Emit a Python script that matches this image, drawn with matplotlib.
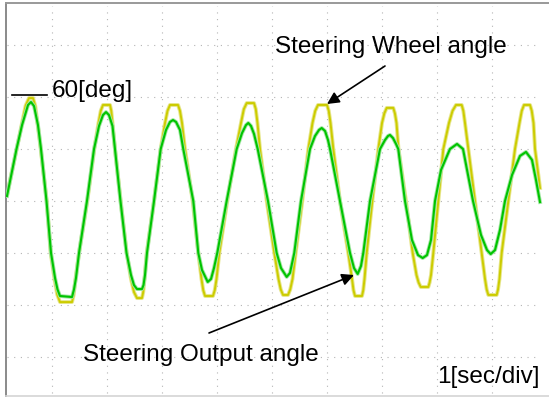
import matplotlib
matplotlib.use("Agg")
import matplotlib.pyplot as plt

# ---------------- data (time in s, angle in deg) ----------------
wheel_t = [0.182, 0.358, 0.455, 0.520, 0.582, 0.655, 0.695, 0.736, 0.795, 0.904,
           0.976, 1.045, 1.095, 1.145, 1.364, 1.395, 1.427, 1.491, 1.642, 1.769,
           1.845, 1.886, 1.927, 2.055, 2.078, 2.100, 2.145, 2.249, 2.358, 2.436,
           2.490, 2.545, 2.636, 2.659, 2.682, 2.722, 2.855, 2.976, 3.055, 3.100,
           3.145, 3.291, 3.327, 3.364, 3.418, 3.558, 3.660, 3.718, 3.750, 3.782,
           3.927, 3.959, 3.991, 4.042, 4.187, 4.345, 4.436, 4.488, 4.540, 4.673,
           4.705, 4.736, 4.782, 4.904, 5.042, 5.118, 5.159, 5.200, 5.291, 5.332,
           5.373, 5.431, 5.551, 5.660, 5.736, 5.786, 5.836, 6.000, 6.032, 6.064,
           6.115, 6.236, 6.387, 6.455, 6.482, 6.509, 6.636, 6.659, 6.682, 6.722,
           6.824, 6.933, 7.000, 7.042, 7.085, 7.205, 7.235, 7.264, 7.300, 7.436,
           7.558, 7.627, 7.665, 7.704, 7.842, 7.866, 7.891, 7.933, 8.024, 8.115,
           8.218, 8.282, 8.345, 8.449, 8.479, 8.509, 8.569, 8.691, 8.813, 8.873,
           8.903, 8.933, 9.085, 9.110, 9.136, 9.176, 9.296, 9.418, 9.500, 9.541,
           9.582, 9.691, 9.723, 9.755, 9.782, 9.873]
wheel_deg = [3.5, 30, 45, 55.0, 59.4, 59.4, 55.0, 45, 30, 0,
             -30, -45, -54.0, -58.3, -58.3, -54.0, -45, -30, 0, 30,
             45, 52.0, 55.4, 55.4, 52.0, 45, 30, 0, -30, -45,
             -52.5, -56.0, -56.0, -52.5, -45, -30, 0, 30, 45, 52.0,
             55.4, 55.4, 52.0, 45, 30, 0, -30, -45, -51.5, -54.8,
             -54.8, -51.5, -45, -30, 0, 30, 45, 53.0, 56.5, 56.5,
             53.0, 45, 30, 0, -30, -45, -51.0, -54.2, -54.2, -51.0,
             -45, -30, 0, 30, 45, 52.0, 55.4, 55.4, 52.0, 45,
             30, 0, -30, -45, -51.5, -54.8, -54.8, -51.5, -45, -30,
             0, 30, 45, 50.5, 53.7, 53.7, 50.5, 45, 30, 0,
             -30, -42.7, -47.0, -49.6, -49.6, -47.0, -42.7, -30, 0, 30,
             45, 52.0, 55.4, 55.4, 52.0, 45, 30, 0, -30, -45,
             -51.0, -54.2, -54.2, -51.0, -45, -30, 0, 30, 45, 52.0,
             55.4, 55.4, 52.0, 45, 30, 7.5]

output_t = [0.182, 0.355, 0.455, 0.564, 0.618, 0.673, 0.745, 0.800, 0.900, 0.982,
            1.055, 1.100, 1.145, 1.364, 1.400, 1.436, 1.491, 1.636, 1.764, 1.855,
            1.927, 1.982, 2.036, 2.100, 2.145, 2.245, 2.355, 2.436, 2.490, 2.545,
            2.636, 2.664, 2.691, 2.727, 2.855, 2.976, 3.073, 3.145, 3.200, 3.255,
            3.327, 3.387, 3.569, 3.660, 3.727, 3.831, 3.891, 3.945, 4.005, 4.176,
            4.358, 4.455, 4.527, 4.569, 4.618, 4.673, 4.740, 4.927, 5.085, 5.164,
            5.267, 5.327, 5.405, 5.527, 5.691, 5.782, 5.855, 5.904, 5.964, 6.018,
            6.055, 6.236, 6.418, 6.491, 6.558, 6.618, 6.660, 6.782, 6.964, 7.055,
            7.109, 7.145, 7.200, 7.255, 7.296, 7.418, 7.545, 7.655, 7.740, 7.818,
            7.891, 7.964, 8.073, 8.236, 8.364, 8.473, 8.655, 8.800, 8.909, 8.976,
            9.055, 9.145, 9.236, 9.364, 9.509, 9.618, 9.727, 9.800, 9.873]
output_deg = [2.9, 30, 43.8, 55.4, 57.1, 54.8, 43.8, 30, 0, -30,
              -44.4, -51.0, -54.8, -55.4, -51.0, -44.4, -30, 0, 30, 43.3,
              49.6, 51.3, 49.6, 43.3, 30, 0, -30, -42.7, -48.5, -50.8,
              -50.8, -48.5, -42.7, -30, 0, 30, 41.0, 45.6, 46.7, 45.6,
              41.0, 30, 0, -30, -39.8, -46.7, -45.0, -38.7, -30, 0,
              30, 39.2, 43.8, 45.0, 43.3, 38.7, 30, 0, -30, -38.7,
              -43.8, -41.5, -30, 0, 30, 37.5, 41.0, 42.1, 40.4, 35.2,
              30, 0, -30, -38.7, -42.1, -37.5, -30, 0, 30, 35.2,
              37.5, 38.1, 36.3, 32.9, 30, 0, -22.5, -31.2, -32.9, -31.2,
              -22.5, 0, 17.9, 30, 32.9, 30, 0, -19.6, -28.3, -30.6,
              -28.3, -16.7, 0, 15.0, 26.0, 28.3, 23.7, 12.1, -0.6]

grid_times = [1, 2, 3, 4, 5, 6, 7, 8, 9]
grid_degs = [-90, -60, -30, 0, 30, 60, 90]

label_wheel = "Steering Wheel angle"
label_output = "Steering Output angle"
label_scale_y = "60[deg]"
label_scale_x = "1[sec/div]"

# ---------------- layout helpers (pixel -> data) ----------------
W, H = 549, 398
def px_t(x):
    return (x + 3) / 55.0
def px_d(y):
    return (201 - y) * 30.0 / 52.0

fig = plt.figure(figsize=(W / 100, H / 100), dpi=100)
left, right, top, bottom = 6, 549, 3, 396
ax = fig.add_axes([left / W, (H - bottom) / H, (right - left) / W, (bottom - top) / H])
ax.set_xlim(px_t(left), px_t(right))
ax.set_ylim(px_d(bottom), px_d(top))
ax.set_xticks([])
ax.set_yticks([])
ax.spines['right'].set_visible(False)
ax.spines['left'].set_color('#8a8a8a')
ax.spines['left'].set_linewidth(1.4)
ax.spines['top'].set_color('#999999')
ax.spines['top'].set_linewidth(1.4)
ax.spines['bottom'].set_color('#d4d4d4')
ax.spines['bottom'].set_linewidth(1.2)

grid_kw = dict(color='#b4b4b4', linewidth=0.8, linestyle=(0, (1, 5)), zorder=1)
for gt in grid_times:
    ax.plot([gt, gt], [px_d(393), px_d(6)], **grid_kw)
for gd in grid_degs:
    ax.plot([px_t(7), px_t(537)], [gd, gd], **grid_kw)

# traces
ax.plot(wheel_t, wheel_deg, color='#e6e68a', linewidth=2.8, solid_joinstyle='round', zorder=2)
ax.plot(wheel_t, wheel_deg, color='#cccc00', linewidth=1.4, solid_joinstyle='round', zorder=3)
ax.plot(output_t, output_deg, color='#a2e6a2', linewidth=2.8, solid_joinstyle='round', zorder=4)
ax.plot(output_t, output_deg, color='#00c400', linewidth=1.5, solid_joinstyle='round', zorder=5)

font = dict(family=['Liberation Sans', 'DejaVu Sans'], fontsize=17.5, color='black')

# scale marks
ax.plot([px_t(12), px_t(47)], [px_d(95), px_d(95)], color='black', linewidth=1.2, zorder=6)
ax.text(px_t(52), px_d(97), label_scale_y, ha='left', va='baseline', zorder=7, **font)
ax.text(px_t(437), px_d(383), label_scale_x, ha='left', va='baseline', zorder=7, **font)

arrow = dict(arrowstyle='-|>', color='black', lw=1.2, mutation_scale=18,
             shrinkA=0, shrinkB=0)
ax.annotate('', xy=(px_t(327), px_d(104)), xytext=(px_t(385), px_d(66)),
            arrowprops=arrow, zorder=8)
ax.annotate('', xy=(px_t(354), px_d(275)), xytext=(px_t(209), px_d(333)),
            arrowprops=arrow, zorder=8)
ax.text(px_t(275), px_d(53), label_wheel, ha='left', va='baseline', zorder=7, **font)
ax.text(px_t(83), px_d(361), label_output, ha='left', va='baseline', zorder=7, **font)

fig.savefig('out.png', dpi=100)
